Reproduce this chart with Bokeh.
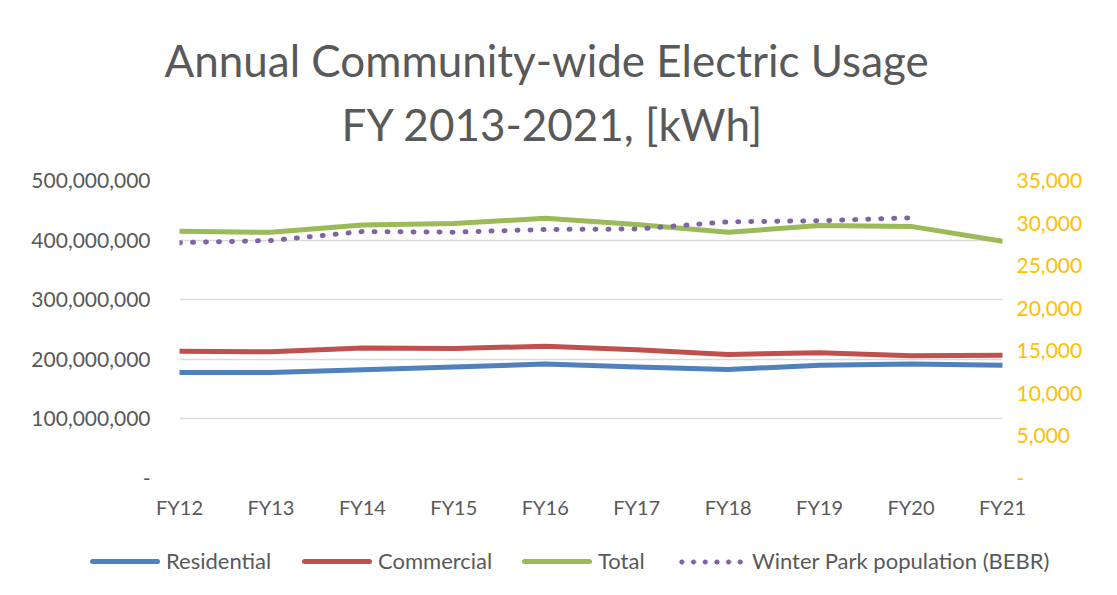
from bokeh.plotting import figure
from bokeh.layouts import column
from bokeh.models import (Range1d, LinearAxis, FixedTicker, NumeralTickFormatter,
                          Title, ColumnDataSource, Div)
from bokeh.embed import file_html
from bokeh.resources import INLINE
import math

years = ["FY12", "FY13", "FY14", "FY15", "FY16", "FY17", "FY18", "FY19", "FY20", "FY21"]
residential = [178e6, 178e6, 182.5e6, 187e6, 192e6, 187e6, 183e6, 190e6, 192e6, 190e6]
commercial = [213.5e6, 212.5e6, 219e6, 218e6, 222e6, 216e6, 208e6, 211e6, 206e6, 207e6]
total = [415e6, 413e6, 425.5e6, 428e6, 436.5e6, 426e6, 413e6, 424.5e6, 423e6, 398e6]
population = [27700, 27950, 29000, 28930, 29250, 29300, 30150, 30270, 30620, math.nan]

left_ticks = [0, 100e6, 200e6, 300e6, 400e6, 500e6]
right_ticks = [0, 5000, 10000, 15000, 20000, 25000, 30000, 35000]

title_lines = ["Annual Community-wide Electric Usage", "FY 2013-2021, [kWh]"]
series_names = ["Residential", "Commercial", "Total", "Winter Park population (BEBR)"]

FONT = "Lato"
GRAY = "#595959"
GOLD = "#FFC000"
COLORS = ["#4F81BD", "#C0504D", "#9BBB59", "#8064A2"]

xs = list(range(len(years)))
src = ColumnDataSource(dict(x=xs, res=residential, com=commercial, tot=total, pop=population))

p = figure(width=1110, height=530, output_backend="svg", toolbar_location=None,
           x_range=Range1d(0, len(years) - 1), y_range=Range1d(0, 500e6),
           min_border_left=179, min_border_right=108, min_border_top=180, min_border_bottom=52)
p.outline_line_color = None
p.background_fill_color = "white"
p.border_fill_color = "white"

p.extra_y_ranges = {"pop": Range1d(0, 35000)}

# left axis
ya = p.yaxis[0]
ya.ticker = FixedTicker(ticks=left_ticks)
ya.formatter = NumeralTickFormatter(format="0,0")
ya.major_label_overrides = {0: "-"}
ya.axis_line_color = None
ya.major_tick_line_color = None
ya.minor_tick_line_color = None
ya.major_label_text_font = FONT
ya.major_label_text_font_size = "21px"
ya.major_label_text_color = GRAY
ya.major_label_standoff = 23

# right axis
ra = LinearAxis(y_range_name="pop", ticker=FixedTicker(ticks=right_ticks),
                formatter=NumeralTickFormatter(format="0,0"))
ra.major_label_overrides = {0: "-"}
ra.axis_line_color = None
ra.major_tick_line_color = None
ra.minor_tick_line_color = None
ra.major_label_text_font = FONT
ra.major_label_text_font_size = "21px"
ra.major_label_text_color = GOLD
ra.major_label_standoff = 8
p.add_layout(ra, "right")

# x axis
xa = p.xaxis[0]
xa.ticker = FixedTicker(ticks=xs)
xa.major_label_overrides = {i: y for i, y in zip(xs, years)}
xa.axis_line_color = None
xa.major_tick_line_color = None
xa.minor_tick_line_color = None
xa.major_label_text_font = FONT
xa.major_label_text_font_size = "20px"
xa.major_label_text_color = GRAY
xa.major_label_standoff = 10

p.xgrid.grid_line_color = None
p.ygrid.grid_line_color = "#d9d9d9"
p.ygrid.grid_line_width = 1.5
p.ygrid.ticker = FixedTicker(ticks=left_ticks)

p.line("x", "res", source=src, line_color=COLORS[0], line_width=5, line_join="round", line_cap="round")
p.line("x", "com", source=src, line_color=COLORS[1], line_width=5, line_join="round", line_cap="round")
p.line("x", "tot", source=src, line_color=COLORS[2], line_width=5, line_join="round", line_cap="round")
p.line("x", "pop", source=src, y_range_name="pop", line_color=COLORS[3], line_width=5,
       line_dash="1 12", line_cap="round")

# title: first added is closest to the frame
p.add_layout(Title(text=" ", text_font=FONT, text_font_size="10px", standoff=12), "above")
p.add_layout(Title(text=title_lines[1], align="left", offset=162, text_font=FONT,
                   text_font_size="44px", text_font_style="normal", text_color=GRAY,
                   standoff=10), "above")
p.add_layout(Title(text=title_lines[0], align="left", offset=-15, text_font=FONT,
                   text_font_size="44px", text_font_style="normal", text_color=GRAY,
                   standoff=10), "above")

# legend strip below the chart (sample swatches + labels)
sample_left = [90, 302, 522, 676]
items_html = []
for i, (name, c, x0) in enumerate(zip(series_names, COLORS, sample_left)):
    if i == 3:
        swatch = (f'<div style="position:absolute;left:{x0}px;top:29px;width:70px;height:6px;'
                  f'background:radial-gradient(circle, {c} 2.3px, transparent 2.8px);'
                  f'background-size:11.7px 6px;background-repeat:repeat-x;"></div>')
    else:
        swatch = (f'<div style="position:absolute;left:{x0}px;top:29px;width:70px;height:5px;'
                  f'border-radius:3px;background:{c};"></div>')
    label = (f'<div style="position:absolute;left:{x0 + 76}px;top:18px;line-height:26px;'
             f'font-family:Lato;font-size:22px;color:{GRAY};white-space:nowrap;">{name}</div>')
    items_html.append(swatch + label)
leg = Div(text='<div style="position:relative;width:1110px;height:60px;">' + "".join(items_html) + '</div>',
          width=1110, height=60, margin=0)

layout = column(p, leg, spacing=0)
open("out.html", "w").write(file_html(layout, INLINE))
